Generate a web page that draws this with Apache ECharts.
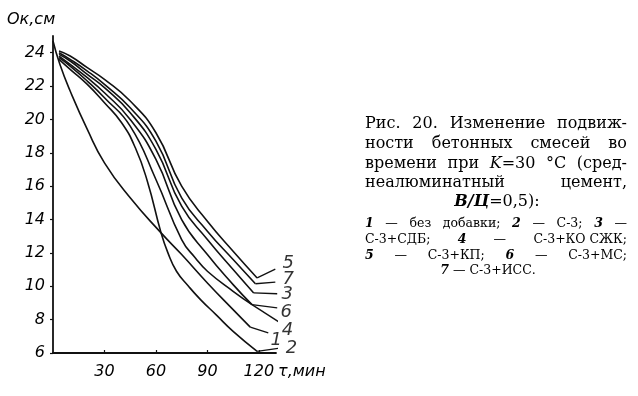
<!DOCTYPE html>
<html><head><meta charset="utf-8">
<script src="https://cdn.jsdelivr.net/npm/echarts/dist/echarts.min.js"></script>
<style>html,body{margin:0;padding:0;background:#fff}#c{width:638px;height:396px}</style>
</head><body><div id="c"></div>
<script>
// ---- data (t in minutes, slump in cm) ----
const xTicks = [30, 60, 90, 120];
const yTicks = [6, 8, 10, 12, 14, 16, 18, 20, 22, 24];
const curveNames = ['1', '2', '3', '4', '5', '6', '7'];
const curve1 = [[0,24.7],[4,23.3],[10,21.7],[20,19.4],[30,17.4],[45,15.3],[63,13.2],[75,11.9],[90,10.2],[105,8.6],[115,7.55]];
const curve2 = [[3.5,23.6],[10,23.0],[20,22.1],[30,21.0],[40,19.8],[48,18.3],[55,16.3],[63,13.2],[67,12.0],[72,10.9],[79,10.0],[86,9.2],[95,8.3],[105,7.3],[119,6.1]];
const curve3 = [[3.5,23.9],[10,23.5],[20,22.7],[30,21.9],[45,20.4],[60,18.2],[75,14.8],[90,12.8],[105,11.0],[117,9.6]];
const curve4 = [[3.5,23.7],[10,23.2],[20,22.3],[30,21.3],[45,19.6],[60,16.4],[75,12.8],[83,11.7],[90,10.9],[105,9.7],[116,8.9]];
const curve5 = [[3.5,24.1],[10,23.8],[20,23.1],[30,22.4],[45,21.1],[60,19.2],[75,16.0],[90,13.9],[105,12.1],[119,10.5]];
const curve6 = [[3.5,23.8],[10,23.3],[20,22.5],[30,21.6],[45,20.0],[60,17.6],[75,14.0],[90,11.9],[105,10.1],[116,8.9]];
const curve7 = [[3.5,24.0],[10,23.6],[20,22.9],[30,22.1],[45,20.7],[60,18.7],[75,15.3],[90,13.3],[105,11.6],[118,10.15]];
// leader lines from each curve end to its number
const leader1 = [[115,7.55],[125.5,7.2]];
const leader2 = [[119,6.1],[132.6,6.3]];
const leader3 = [[117,9.6],[130.7,9.55]];
const leader4 = [[116,8.9],[132.6,7.8]];
const leader5 = [[119,10.5],[129.6,11.03]];
const leader6 = [[116,8.9],[130.7,8.7]];
const leader7 = [[118,10.15],[129.6,10.25]];

const curves = [curve1, curve2, curve3, curve4, curve5, curve6, curve7];
const leaders = [leader1, leader2, leader3, leader4, leader5, leader6, leader7];
// label pixel offsets from leader ends (style)
const labelOffsets = [[8,7],[11,0],[10,1],[7,7],[13,-6],[9,4],[13,-3]];

const chart = echarts.init(document.getElementById('c'), null, {renderer: 'canvas'});
const INK = '#111';
const series = [];
curves.forEach((d, i) => {
  series.push({type: 'line', data: d, symbol: 'none', smooth: 0.5,
    lineStyle: {color: INK, width: 1.6}, clip: false, silent: true, z: 3});
});
leaders.forEach(d => {
  series.push({type: 'line', data: d, symbol: 'none', smooth: false,
    lineStyle: {color: INK, width: 1.3}, clip: false, silent: true, z: 3});
});
series.push({type: 'scatter', symbolSize: 0, clip: false, silent: true,
  data: leaders.map((d, i) => ({name: curveNames[i], value: d[d.length - 1],
    label: {show: true, position: 'inside', formatter: '{b}', offset: labelOffsets[i],
      fontSize: 18, fontStyle: 'italic', fontFamily: 'DejaVu Sans', color: '#000'}}))});

// ---- caption text layout ----
const ctx = document.createElement('canvas').getContext('2d');
const FAM = 'DejaVu Serif';
function fontOf(p){ return (p.i ? 'italic ' : '') + (p.b ? 'bold ' : '') + p.size + 'px "' + p.family + '"'; }
function wOf(p){ ctx.font = fontOf(p); return ctx.measureText(p.t).width; }
const graphics = [];
function lineText(tokens, size, x0, x1, y, mode){
  const tk = tokens.map(t => (Array.isArray(t) ? t : [t]).map(p => typeof p === 'string' ? {t: p} : p)
    .map(p => Object.assign({size: size, family: FAM}, p)));
  const ws = tk.map(parts => parts.reduce((s, p) => s + wOf(p), 0));
  const total = ws.reduce((a, b) => a + b, 0);
  const sp = wOf({t: ' ', size: size, family: FAM});
  let gap, x;
  if (mode === 'justify') { gap = Math.max(2, (x1 - x0 - total) / (tk.length - 1)); x = x0; }
  else { gap = sp; x = x0 - (total + gap * (tk.length - 1)) / 2; }
  tk.forEach((parts, k) => {
    parts.forEach(p => {
      graphics.push({type: 'text', x: x, y: y, silent: true,
        style: {text: p.t, fill: '#000', font: fontOf(p), textAlign: 'left', textVerticalAlign: 'middle'}});
      x += wOf(p);
    });
    x += gap;
  });
}
const BI = t => ({t: t, i: 1, b: 1});
lineText(['Рис.', '20.', 'Изменение', 'подвиж-'], 16, 365, 627, 124, 'justify');
lineText(['ности', 'бетонных', 'смесей', 'во'], 16, 365, 627, 144, 'justify');
lineText(['времени', 'при', [{t: 'K', i: 1}, '=30'], '°C', '(сред-'], 16, 365, 627, 164, 'justify');
lineText(['неалюминатный', 'цемент,'], 16, 365, 627, 183, 'justify');
lineText([[{t: 'В/Ц', i: 1, b: 1}, '=0,5):']], 16, 497, 0, 202, 'center');
lineText([BI('1'), '—', 'без', 'добавки;', BI('2'), '—', 'С-3;', BI('3'), '—'], 12.5, 365, 627, 224, 'justify');
lineText(['С-3+СДБ;', BI('4'), '—', 'С-3+КО СЖК;'], 12.5, 365, 627, 240, 'justify');
lineText([BI('5'), '—', 'С-3+КП;', BI('6'), '—', 'С-3+МС;'], 12.5, 365, 627, 256, 'justify');
lineText([BI('7'), '—', 'С-3+ИСС.'], 12.5, 488, 0, 271, 'center');
// axis names
graphics.push({type: 'text', x: 7, y: 20, silent: true,
  style: {text: 'Ок,см', fill: '#000', font: 'italic 16px "DejaVu Sans"', textAlign: 'left', textVerticalAlign: 'middle'}});
graphics.push({type: 'text', x: 278, y: 372, silent: true,
  style: {text: 'τ,мин', fill: '#000', font: 'italic 16px "DejaVu Sans"', textAlign: 'left', textVerticalAlign: 'middle'}});

const axisFont = {fontSize: 16, fontStyle: 'italic', fontFamily: 'DejaVu Sans', color: '#000'};
chart.setOption({
  animation: false,
  backgroundColor: '#fff',
  grid: {left: 53, top: 36, width: 223, height: 317, containLabel: false},
  xAxis: {type: 'value', min: 0, max: 130, interval: 30,
    axisLine: {show: true, lineStyle: {color: INK, width: 1.8}},
    axisTick: {show: true, inside: true, length: 3, customValues: xTicks, lineStyle: {color: INK, width: 1.2}},
    axisLabel: Object.assign({margin: 11, customValues: xTicks,
      formatter: v => xTicks.indexOf(v) >= 0 ? String(v) : ''}, axisFont),
    splitLine: {show: false}},
  yAxis: {type: 'value', min: 6, max: 25, interval: 2,
    axisLine: {show: true, lineStyle: {color: INK, width: 1.8}},
    axisTick: {show: true, inside: false, length: 3, customValues: yTicks, lineStyle: {color: INK, width: 1.2}},
    axisLabel: Object.assign({margin: 8, customValues: yTicks,
      formatter: v => yTicks.indexOf(v) >= 0 ? String(v) : ''}, axisFont),
    splitLine: {show: false}},
  series: series,
  graphic: {elements: graphics}
});
</script></body></html>
